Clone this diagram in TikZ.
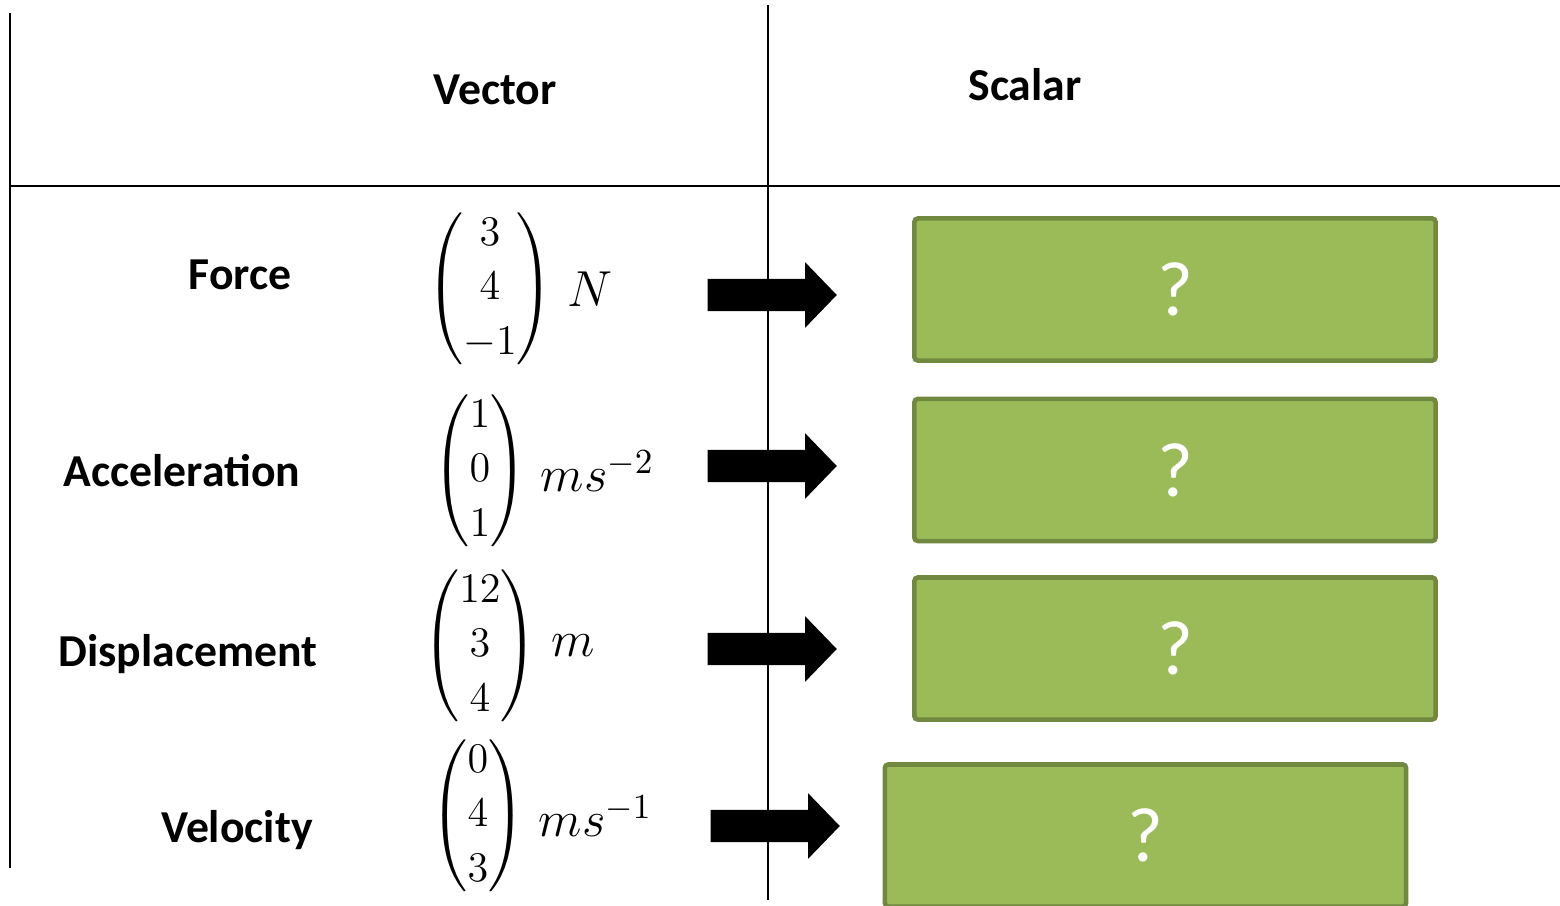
\documentclass[tikz,border=0pt]{standalone}
\usepackage{amsmath}
\usepackage{fontspec}
\setmainfont{Carlito}
\usetikzlibrary{positioning,shapes.arrows}
\definecolor{boxgreen}{HTML}{9BBB59}
\definecolor{boxedge}{HTML}{71893F}

\begin{document}
\begin{tikzpicture}
	[x=0.01cm,y=-0.01cm,
	head/.style={font=\fontsize{13}{15}\selectfont\bfseries},
	vec/.style={inner sep=0pt,font=\fontsize{12}{15.6}\selectfont},
	unit/.style={inner sep=0pt,font=\fontsize{14.5}{16}\selectfont},
	fat/.style={single arrow,fill=black,inner xsep=0pt,inner ysep=0.155cm,minimum height=1.29cm,
		single arrow head extend=0.165cm,single arrow tip angle=92,anchor=tail},
	qbox/.style={rectangle,draw=boxedge,fill=boxgreen,line width=1.3pt,rounded corners=1pt,
		minimum width=5.21cm,minimum height=1.42cm,text=white,font=\fontsize{22}{24}\selectfont}]
	\useasboundingbox (0,0) rectangle (1560,906);

	% table lines
	\draw[line width=0.6pt] (10,13) -- (10,868);
	\draw[line width=0.6pt] (768,5) -- (768,900);
	\draw[line width=0.6pt] (10,186) -- (1560,186);

	\node[head] (vh) at (495,90) {Vector};
	\node[head] (sh) at (1025,85) {Scalar};

	\node[head] (l1) at (240,275) {Force};
	\node[head] (l2) at (182,471) {Acceleration};
	\node[head] (l3) at (188,654) {Displacement};
	\node[head] (l4) at (237,830) {Velocity};

	\node[vec] (v1) at (490,289) {$\begin{pmatrix}3\\4\\-1\end{pmatrix}$};
	\node[vec] (v2) at (480,471) {$\begin{pmatrix}1\\0\\1\end{pmatrix}$};
	\node[vec] (v3) at (480,646) {$\begin{pmatrix}12\\3\\4\end{pmatrix}$};
	\node[vec] (v4) at (478,816) {$\begin{pmatrix}0\\4\\3\end{pmatrix}$};

	\node[unit,right=0.12cm of v1] (u1) {$N$};
	\node[unit,right=0.12cm of v2] (u2) {$ms^{-2}$};
	\node[unit,right=0.12cm of v3] (u3) {$m$};
	\node[unit,right=0.12cm of v4] (u4) {$ms^{-1}$};

	\foreach \n/\x/\y in {1/707/295,2/707/466,3/707/649,4/710/826}
	\node[fat] (a\n) at (\x,\y) {};

	\foreach \n/\x/\y in {1/1175/289.5,2/1175/470,3/1175/648.5,4/1145.5/835.5}
	\node[qbox] (b\n) at (\x,\y) {?};
\end{tikzpicture}
\end{document}
